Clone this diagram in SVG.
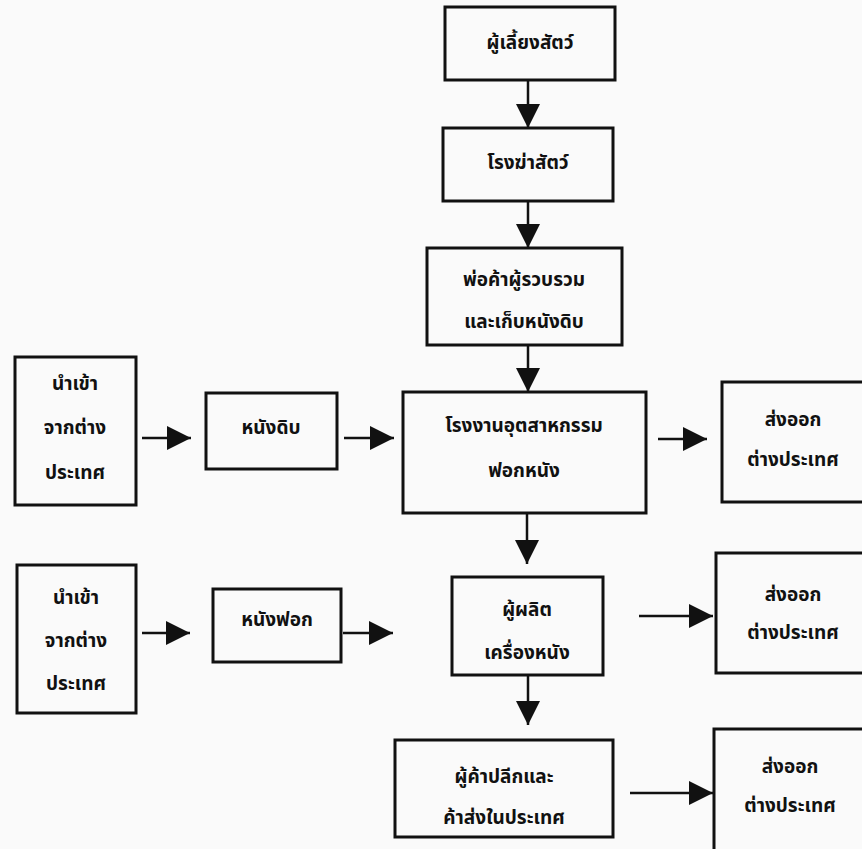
<svg xmlns="http://www.w3.org/2000/svg" width="862" height="849" viewBox="0 0 862 849">
<style>
.box{fill:none;stroke:#111;stroke-width:3}
.t{font-family:"Noto Sans","Noto Sans Thai","DejaVu Sans",sans-serif;font-weight:bold;font-size:19px;fill:#111;text-anchor:middle;dominant-baseline:central}
.c{stroke:#111;stroke-width:2.5;fill:none;marker-end:url(#ah)}
</style>
<defs>
<marker id="ah" markerUnits="userSpaceOnUse" markerWidth="24" markerHeight="24" viewBox="0 0 22 22" refX="22" refY="11" orient="auto">
<path d="M0,0 L22,11 L0,22 Z" fill="#111"/>
</marker>
</defs>
<rect width="862" height="849" fill="#fafafa"/>
<g id="connectors">
<line class="c" x1="528" y1="80" x2="528" y2="128"/>
<line class="c" x1="528" y1="201" x2="528" y2="248"/>
<line class="c" x1="528" y1="345" x2="528" y2="392"/>
<line class="c" x1="142" y1="438" x2="191" y2="438"/>
<line class="c" x1="344" y1="438" x2="394" y2="438"/>
<line class="c" x1="658" y1="439" x2="707" y2="439"/>
<line class="c" x1="527" y1="513" x2="527" y2="564"/>
<line class="c" x1="142" y1="633" x2="190" y2="633"/>
<line class="c" x1="343" y1="633" x2="393" y2="633"/>
<line class="c" x1="639" y1="616" x2="713" y2="616"/>
<line class="c" x1="528" y1="675" x2="528" y2="725"/>
<line class="c" x1="630" y1="793" x2="713" y2="793"/>
</g>
<g id="farmer">
<rect class="box" x="445" y="7" width="170" height="73"/>
<text class="t" x="530" y="42">ผู้เลี้ยงสัตว์</text>
</g>
<g id="slaughter">
<rect class="box" x="443" y="128" width="170" height="73"/>
<text class="t" x="528" y="162">โรงฆ่าสัตว์</text>
</g>
<g id="collector">
<rect class="box" x="427" y="248" width="195" height="97"/>
<text class="t" x="524" y="279">พ่อค้าผู้รวบรวม</text>
<text class="t" x="524" y="321">และเก็บหนังดิบ</text>
</g>
<g id="tannery">
<rect class="box" x="403" y="392" width="243" height="121"/>
<text class="t" x="524" y="425">โรงงานอุตสาหกรรม</text>
<text class="t" x="524" y="470">ฟอกหนัง</text>
</g>
<g id="export1">
<rect class="box" x="722" y="382" width="160" height="120"/>
<text class="t" x="793" y="419">ส่งออก</text>
<text class="t" x="793" y="459">ต่างประเทศ</text>
</g>
<g id="import1">
<rect class="box" x="15" y="357" width="121" height="148"/>
<text class="t" x="75" y="383">นำเข้า</text>
<text class="t" x="75" y="427">จากต่าง</text>
<text class="t" x="75" y="472">ประเทศ</text>
</g>
<g id="rawhide">
<rect class="box" x="206" y="393" width="131" height="76"/>
<text class="t" x="271" y="427">หนังดิบ</text>
</g>
<g id="import2">
<rect class="box" x="17" y="565" width="119" height="148"/>
<text class="t" x="76" y="597">นำเข้า</text>
<text class="t" x="76" y="640">จากต่าง</text>
<text class="t" x="76" y="683">ประเทศ</text>
</g>
<g id="tanned">
<rect class="box" x="213" y="589" width="128" height="73"/>
<text class="t" x="277" y="619">หนังฟอก</text>
</g>
<g id="maker">
<rect class="box" x="452" y="577" width="151" height="98"/>
<text class="t" x="527" y="609">ผู้ผลิต</text>
<text class="t" x="527" y="652">เครื่องหนัง</text>
</g>
<g id="export2">
<rect class="box" x="716" y="553" width="160" height="120"/>
<text class="t" x="793" y="594">ส่งออก</text>
<text class="t" x="793" y="632">ต่างประเทศ</text>
</g>
<g id="retail">
<rect class="box" x="395" y="740" width="218" height="97"/>
<text class="t" x="504" y="776">ผู้ค้าปลีกและ</text>
<text class="t" x="504" y="817">ค้าส่งในประเทศ</text>
</g>
<g id="export3">
<rect class="box" x="714" y="729" width="160" height="140"/>
<text class="t" x="790" y="766">ส่งออก</text>
<text class="t" x="790" y="805">ต่างประเทศ</text>
</g>
</svg>
